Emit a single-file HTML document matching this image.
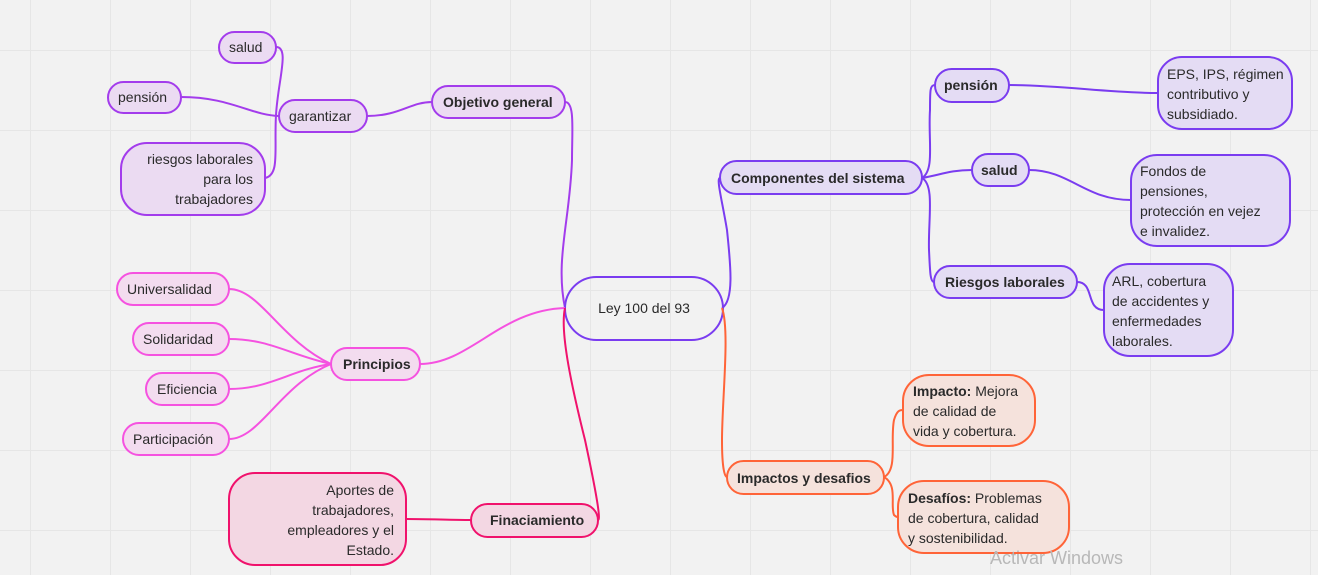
<!DOCTYPE html>
<html><head><meta charset="utf-8"><style>
html,body{margin:0;padding:0;background:#f2f2f2;}
svg{display:block}
text{font-family:"Liberation Sans",sans-serif;font-size:14px;fill:#2a2a2a}
.b{font-weight:bold}
</style></head><body>
<svg width="1318" height="575" viewBox="0 0 1318 575" xmlns="http://www.w3.org/2000/svg">
<defs>
<pattern id="g" width="80" height="80" patternUnits="userSpaceOnUse" x="30" y="50">
<path d="M0 0H80M0 0V80" stroke="#e6e6e6" stroke-width="2" fill="none"/>
</pattern>
</defs>
<rect width="1318" height="575" fill="url(#g)"/>
<g fill="none" stroke-width="2">
<!-- purple (objetivo) -->
<g stroke="#a33cec">
<path d="M276 47 C290 47 278 80 276 115 C274 150 280 175 265 178"/>
<path d="M181 97 C230 97 250 115 279 116"/>
<path d="M367 116 C400 116 410 102 432 102"/>
<path d="M565 102 C575 102 572 130 572 160 C570 220 555 260 565 308"/>
</g>
<!-- violet (componentes) -->
<g stroke="#7a3cf0">
<path d="M722 308 C735 300 730 260 727 230 C722 200 716 178 720 178"/>
<path d="M922 178 C935 170 928 140 930 110 C930 90 930 85 935 85"/>
<path d="M922 178 C940 175 950 170 972 170"/>
<path d="M922 178 C935 185 928 220 929 250 C930 270 930 282 934 282"/>
<path d="M1009 85 C1060 85 1110 93 1158 93"/>
<path d="M1029 170 C1070 170 1085 200 1131 200"/>
<path d="M1077 282 C1095 282 1085 310 1104 310"/>
<rect x="565" y="277" width="158" height="63" rx="31.5" stroke-width="2"/>
</g>
<!-- pink principios -->
<g stroke="#f552e0">
<path d="M229 289 C260 289 280 340 331 364"/>
<path d="M229 339 C270 339 290 355 331 364"/>
<path d="M229 389 C270 389 290 370 331 364"/>
<path d="M229 439 C260 439 280 385 331 364"/>
<path d="M420 364 C470 364 500 310 565 308"/>
</g>
<!-- crimson -->
<g stroke="#f0126c">
<path d="M565 308 C560 330 570 380 585 440 C600 510 600 520 598 520"/>
<path d="M406 519 C430 519 450 520 471 520"/>
</g>
<!-- orange -->
<g stroke="#ff6438">
<path d="M722 308 C730 330 722 400 722 440 C722 470 725 477 727 477"/>
<path d="M884 477 C898 470 890 440 894 420 C897 410 900 410 903 410"/>
<path d="M884 477 C898 485 890 505 894 515 C897 518 900 517 898 517"/>
</g>
</g>
<!-- nodes -->
<g stroke-width="2">
<g stroke="#a33cec" fill="#ebdbf2">
<rect x="219" y="32" width="57" height="31" rx="15.5"/>
<rect x="108" y="82" width="73" height="31" rx="15.5"/>
<rect x="279" y="100" width="88" height="32" rx="16"/>
<rect x="121" y="143" width="144" height="72" rx="26"/>
<rect x="432" y="86" width="133" height="32" rx="16"/>
</g>
<g stroke="#7a3cf0" fill="#e4dcf4">
<rect x="720" y="161" width="202" height="33" rx="16.5"/>
<rect x="935" y="69" width="74" height="33" rx="16.5"/>
<rect x="1158" y="57" width="134" height="72" rx="24"/>
<rect x="972" y="154" width="57" height="32" rx="16"/>
<rect x="1131" y="155" width="159" height="91" rx="26"/>
<rect x="934" y="266" width="143" height="32" rx="16"/>
<rect x="1104" y="264" width="129" height="92" rx="26"/>
</g>
<g stroke="#f552e0" fill="#f3dcef">
<rect x="117" y="273" width="112" height="32" rx="16"/>
<rect x="133" y="323" width="96" height="32" rx="16"/>
<rect x="146" y="373" width="83" height="32" rx="16"/>
<rect x="123" y="423" width="106" height="32" rx="16"/>
<rect x="331" y="348" width="89" height="32" rx="16"/>
</g>
<g stroke="#f0126c" fill="#f3d7e3">
<rect x="229" y="473" width="177" height="92" rx="26"/>
<rect x="471" y="504" width="127" height="33" rx="16.5"/>
</g>
<g stroke="#ff6438" fill="#f5e2dc">
<rect x="903" y="375" width="132" height="71" rx="26"/>
<rect x="727" y="461" width="157" height="33" rx="16.5"/>
<rect x="898" y="481" width="171" height="72" rx="26"/>
</g>
</g>
<!-- text -->
<text x="229" y="52">salud</text>
<text x="118" y="102">pensión</text>
<text x="289" y="121">garantizar</text>
<text x="253" y="164" text-anchor="end">riesgos laborales</text>
<text x="253" y="184" text-anchor="end">para los</text>
<text x="253" y="204" text-anchor="end">trabajadores</text>
<text x="443" y="107" class="b">Objetivo general</text>
<text x="644" y="313" text-anchor="middle">Ley 100 del 93</text>
<text x="731" y="183" class="b">Componentes del sistema</text>
<text x="944" y="90" class="b">pensión</text>
<text x="1167" y="79">EPS, IPS, régimen</text>
<text x="1167" y="99">contributivo y</text>
<text x="1167" y="119">subsidiado.</text>
<text x="981" y="175" class="b">salud</text>
<text x="1140" y="176">Fondos de</text>
<text x="1140" y="196">pensiones,</text>
<text x="1140" y="216">protección en vejez</text>
<text x="1140" y="236">e invalidez.</text>
<text x="945" y="287" class="b">Riesgos laborales</text>
<text x="1112" y="286">ARL, cobertura</text>
<text x="1112" y="306">de accidentes y</text>
<text x="1112" y="326">enfermedades</text>
<text x="1112" y="346">laborales.</text>
<text x="127" y="294">Universalidad</text>
<text x="143" y="344">Solidaridad</text>
<text x="157" y="394">Eficiencia</text>
<text x="133" y="444">Participación</text>
<text x="343" y="369" class="b">Principios</text>
<text x="394" y="495" text-anchor="end">Aportes de</text>
<text x="394" y="515" text-anchor="end">trabajadores,</text>
<text x="394" y="535" text-anchor="end">empleadores y el</text>
<text x="394" y="555" text-anchor="end">Estado.</text>
<text x="490" y="525" class="b">Finaciamiento</text>
<text x="913" y="396"><tspan class="b">Impacto:</tspan> Mejora</text>
<text x="913" y="416">de calidad de</text>
<text x="913" y="436">vida y cobertura.</text>
<text x="737" y="483" class="b">Impactos y desafios</text>
<text x="908" y="503"><tspan class="b">Desafíos:</tspan> Problemas</text>
<text x="908" y="523">de cobertura, calidad</text>
<text x="908" y="543">y sostenibilidad.</text>
<text x="990" y="564" style="font-size:18px;fill:#b8b8b8">Activar Windows</text>
</svg>
</body></html>
